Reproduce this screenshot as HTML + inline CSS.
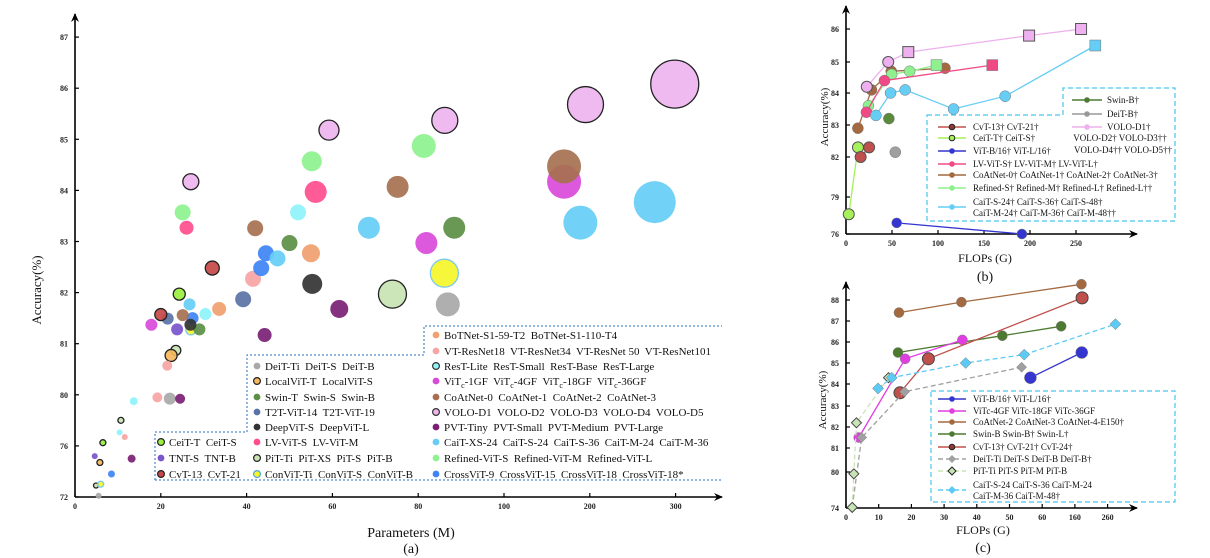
<!DOCTYPE html>
<html><head><meta charset="utf-8">
<style>
html,body{margin:0;padding:0;background:#fff;width:1210px;height:558px;overflow:hidden}
svg{display:block;font-family:"Liberation Serif",serif}
.tk{font-size:8px;font-weight:bold;fill:#222}
.lg{font-size:11px;fill:#111}
.lgs{font-size:9px;fill:#111}
</style></head>
<body>
<svg id="fig" width="1210" height="558" viewBox="0 0 1210 558">
<defs>
<marker id="arr" markerWidth="10" markerHeight="10" refX="8" refY="5" orient="auto" markerUnits="userSpaceOnUse"><path d="M0,1 L9,5 L0,9 L3,5 Z" fill="#000"/></marker>
</defs>
<g id="ga"></g>
<g id="gb"></g>
<g id="gc"></g>
</svg>
<script>
// ---------- chart (a) data ----------
const aXTicks=[0,20,40,60,80,100,200,300];
const aYTicks=[72,76,80,81,82,83,84,85,86,87];
const voloP=[27,59.2,86.2,195,299]; const voloA=[84.17,85.18,85.37,85.68,86.08]; const voloR=[8,10,13,18,24];
const refP=[25.1,55.2,81.3]; const refA=[83.57,84.57,84.87]; const refR=[8,10,12];
const lvP=[26,56.1]; const lvA=[83.27,83.97]; const lvR=[7,11];
const coP=[25.1,42,75.2,170]; const coA=[81.56,83.26,84.07,84.47]; const coR=[6,8,11,17];
const vitcP=[17.8,81.9,170]; const vitcA=[81.37,82.97,84.17]; const vitcR=[6,11,17];
const caitP=[26.7,47.2,68.5,189,275.7]; const caitA=[81.77,82.67,83.27,83.37,83.77]; const caitR=[6,8,11,17,21];
const restP=[10.4,13.7,30.4,52]; const restA=[77.06,79.5,81.58,83.57]; const restR=[3,4,6,8];
const crossP=[8.5,27.4,43.4,44.5]; const crossA=[73.8,81.5,82.48,82.77]; const crossR=[3.5,6,8,8];
const swinP=[29,50,88.4]; const swinA=[81.28,82.97,83.27]; const swinR=[6,8,11];
const t2tP=[21.6,39.2]; const t2tA=[81.49,81.87]; const t2tR=[6,8];
const deepP=[26.9,55.3]; const deepA=[81.37,82.17]; const deepR=[6,10];
const pvtP=[13.2,24.5,44.2,61.6]; const pvtA=[75.0,79.69,81.17,81.68]; const pvtR=[4,5,7,9];
const convP=[6,27,86.1]; const convA=[73,81.27,82.38]; const convR=[3,5,14];
const botP=[33.6,55]; const botA=[81.68,82.77]; const botR=[7,9];
const vtrP=[11.6,19.2,21.5,41.5]; const vtrA=[76.7,79.8,80.57,82.27]; const vtrR=[3,5,5,8];
const deitP=[5.5,22.1,86.9]; const deitA=[72.1,79.7,81.77]; const deitR=[3,6,12];
const localP=[5.8,22.4]; const localA=[74.7,80.77]; const localR=[3,6];
const pitP=[4.9,10.7,23.5,74]; const pitA=[72.9,78.0,80.87,81.97]; const pitR=[2.5,3,5,14];
const ceitP=[6.5,24.3]; const ceitA=[76.25,81.97]; const ceitR=[3,6];
const tntP=[4.6,23.8]; const tntA=[75.2,81.28]; const tntR=[3,6];
const cvtP=[20,32]; const cvtA=[81.57,82.48]; const cvtR=[6,7];

// ---------- chart (b) data ----------
const bXTicks=[0,50,100,150,200,250];
const bYTicks=[76,79,82,83,84,85,86];
const bVoloF=[22.6,45.9,67.7,199,255.5]; const bVoloA=[84.2,85.0,85.3,85.8,86.0];
const bCaitF=[32.5,48.4,64.3,116.9,173,271]; const bCaitA=[83.3,84.0,84.1,83.5,83.9,85.5];
const bRefF=[24.4,49.6,69.2,98.4]; const bRefA=[83.6,84.6,84.7,84.9];
const bLvF=[22.2,41.8,159]; const bLvA=[83.4,84.4,84.9];
const bCoF=[12.9,27.7,49.2,107.6]; const bCoA=[82.9,84.1,84.7,84.8];
const bCeitF=[3,13]; const bCeitA=[77.6,82.3];
const bCvtF=[15.9,25.1]; const bCvtA=[82.0,82.3];
const bSwinF=[46.6]; const bSwinA=[83.2];
const bDeitF=[53.6]; const bDeitA=[82.15];
const bVitF=[55.1,191.2]; const bVitA=[76.9,76.0];

// ---------- chart (c) data ----------
const cXTicks=[0,10,20,30,40,50,60,160,260];
const cYTicks=[74,80,81,82,83,84,85,86,87,88];
const cCoF=[16.2,35.3,180]; const cCoA=[87.4,87.9,88.75];
const cCvtF=[16.5,25.2,182]; const cCvtA=[83.6,85.2,88.1];
const cSwinF=[15.9,47.8,118]; const cSwinA=[85.5,86.3,86.75];
const cVitcF=[3.9,18.1,35.6]; const cVitcA=[81.5,85.2,86.1];
const cVitF=[56.4,181]; const cVitA=[84.3,85.5];
const cDeitF=[1.9,4.8,17.9,53.7]; const cDeitA=[74.1,81.5,83.65,84.8];
const cPitF=[1.9,2.4,3.2,13]; const cPitA=[74.1,79.7,82.2,84.3];
const cCaitF=[9.8,14,36.6,54.5,284]; const cCaitA=[83.8,84.3,85.0,85.4,86.85];

const NS="http://www.w3.org/2000/svg";
function mk(tag,attrs,parent){const e=document.createElementNS(NS,tag);for(const k in attrs)e.setAttribute(k,attrs[k]);parent.appendChild(e);return e;}
function interp(v,vals,pix){if(v<=vals[0]){return pix[0]+(v-vals[0])*(pix[1]-pix[0])/(vals[1]-vals[0]);}
 for(let i=0;i<vals.length-1;i++){if(v<=vals[i+1]){return pix[i]+(v-vals[i])*(pix[i+1]-pix[i])/(vals[i+1]-vals[i]);}}
 const n=vals.length-1;return pix[n]+(v-vals[n])*(pix[n]-pix[n-1])/(vals[n]-vals[n-1]);}

// axis functions
const aXPix=aXTicks.map((_,i)=>75+i*85.8);
const aYPix=aYTicks.map((_,i)=>497-i*51.1);
const xA=v=>interp(v,aXTicks,aXPix), yA=v=>interp(v,aYTicks,aYPix);
const bXPix=bXTicks.map((_,i)=>846+i*46);
const bYPix=[234,197,157,125,93,62,29];
const xB=v=>interp(v,bXTicks,bXPix), yB=v=>interp(v,bYTicks,bYPix);
const cXPix=cXTicks.map((_,i)=>846+i*32.7);
const cYPix=[508,472,448,427,406,384,363,342,321,300];
const xC=v=>interp(v,cXTicks,cXPix), yC=v=>interp(v,cYTicks,cYPix);

function axes(g,x0,y0,xEnd,yTop,xt,xp,yt,yp,pre){
  const ax=mk('line',{x1:x0,y1:y0,x2:xEnd,y2:y0,stroke:'#000','stroke-width':1.6,'marker-end':'url(#arr)'},g);
  
  
  const ay=mk('line',{x1:x0,y1:y0,x2:x0,y2:yTop,stroke:'#000','stroke-width':1.6,'marker-end':'url(#arr)'},g);
  
  
  xt.forEach((v,i)=>{const px=xp(v);
    mk('line',{x1:px,y1:y0,x2:px,y2:y0-4,stroke:'#000','stroke-width':1.2},g);
    const t=mk('text',{x:px,y:y0+12,'text-anchor':'middle',class:'tk'},g);t.textContent=v;
    
    });
  yt.forEach((v,i)=>{const py=yp(v);
    mk('line',{x1:x0,y1:py,x2:x0+4,y2:py,stroke:'#000','stroke-width':1.2},g);
    const t=mk('text',{x:x0-7,y:py+3,'text-anchor':'end',class:'tk'},g);t.textContent=v;
    
    });
}
function label(g,txt,x,y,size,rot,name){const t=mk('text',{x:x,y:y,'text-anchor':'middle','font-size':size,fill:'#111'},g);
  if(rot)t.setAttribute('transform','rotate(-90 '+x+' '+y+')');t.textContent=txt;
  
  return t;}

// ---------------- chart (a) ----------------
const ga=document.getElementById('ga');
axes(ga,75,497,722,14,aXTicks,xA,aYTicks,yA,'a');
label(ga,'Parameters (M)',411,537,14,false,'a-x-axis-title');
label(ga,'(a)',411,553,14,false,'a-caption');
label(ga,'Accuracy(%)',41,290,13,true,'a-y-axis-title');

const aSeries=[
 ['deit',deitP,deitA,deitR,'#a8a8a8','none'],
 ['pit',pitP,pitA,pitR,'#c8e4b4','#222'],
 ['local',localP,localA,localR,'#f5b95c','#222'],
 ['ceit',ceitP,ceitA,ceitR,'#9af040','#222'],
 ['tnt',tntP,tntA,tntR,'#7a56cc','none'],
 ['vtr',vtrP,vtrA,vtrR,'#f7a4a4','none'],
 ['rest',restP,restA,restR,'#8ff3fb','none'],
 ['pvt',pvtP,pvtA,pvtR,'#7a1f74','none'],
 ['cross',crossP,crossA,crossR,'#3d84f5','none'],
 ['conv',convP,convA,convR,'#f5f52a','#7cc8ee'],
 ['t2t',t2tP,t2tA,t2tR,'#5a73a6','none'],
 ['swin',swinP,swinA,swinR,'#5b8f45','none'],
 ['deep',deepP,deepA,deepR,'#333','none'],
 ['bot',botP,botA,botR,'#f0a06e','none'],
 ['cait',caitP,caitA,caitR,'#66cdf5','none'],
 ['vitc',vitcP,vitcA,vitcR,'#d94ad9','none'],
 ['coatnet',coP,coA,coR,'#a6704f','none'],
 ['lvvit',lvP,lvA,lvR,'#ff4d8d','none'],
 ['refined',refP,refA,refR,'#8ef28e','none'],
 ['cvt',cvtP,cvtA,cvtR,'#c74848','#222'],
 ['volo',voloP,voloA,voloR,'#edb4ee','#222']
];
aSeries.forEach(s=>{s[1].forEach((p,i)=>{
  const c=mk('circle',{cx:xA(p),cy:yA(s[2][i]),r:s[3][i],fill:s[4],'fill-opacity':0.92,stroke:s[5],'stroke-width':s[5]=='none'?0:1.3},ga);
  
  
});});

// legend (a)
const lgA=mk('path',{d:'M155,480 L155,432 L247,432 L247,355 L424,355 L424,326 L722,326 M155,480 L722,480',fill:'#fff','fill-opacity':0,stroke:'#2a6fc0','stroke-width':1,'stroke-dasharray':'2,2'},ga);


function lgEntry(g,x,y,col,stroke,txt,name,cls){
  const c=mk('circle',{cx:x-8,cy:y-4,r:3.4,fill:col,stroke:stroke,'stroke-width':stroke=='none'?0:1.2},g);
  
  
  const t=mk('text',{x:x,y:y,class:cls||'lg'},g);t.innerHTML=txt;
  
  
}
const sub='<tspan font-size="8" dy="3">c</tspan><tspan dy="-3">';
const col3=[['#f0a06e','none','BoTNet-S1-59-T2  BoTNet-S1-110-T4'],['#f7a4a4','none','VT-ResNet18  VT-ResNet34  VT-ResNet 50  VT-ResNet101'],
 ['#8ff3fb','#333','ResT-Lite  ResT-Small  ResT-Base  ResT-Large'],['#d94ad9','none','ViT'+sub+'-1GF</tspan>  ViT'+sub+'-4GF</tspan>  ViT'+sub+'-18GF</tspan>  ViT'+sub+'-36GF</tspan>'],
 ['#a6704f','none','CoAtNet-0  CoAtNet-1  CoAtNet-2  CoAtNet-3'],['#edb4ee','#333','VOLO-D1  VOLO-D2  VOLO-D3  VOLO-D4  VOLO-D5'],
 ['#7a1f74','none','PVT-Tiny  PVT-Small  PVT-Medium  PVT-Large'],['#66cdf5','none','CaiT-XS-24  CaiT-S-24  CaiT-S-36  CaiT-M-24  CaiT-M-36'],
 ['#8ef28e','none','Refined-ViT-S  Refined-ViT-M  Refined-ViT-L'],['#3d84f5','none','CrossViT-9  CrossViT-15  CrossViT-18  CrossViT-18*']];
const ys3=[335,351,366,381,397,412,427,442,458,474];
col3.forEach((e,i)=>lgEntry(ga,444,ys3[i]+4,e[0],e[1],e[2].replace(/  /g,'&#160; '),'a-legend-entry'));
const col2=[['#a8a8a8','none','DeiT-Ti  DeiT-S  DeiT-B'],['#f5b95c','#222','LocalViT-T  LocalViT-S'],['#5b8f45','none','Swin-T  Swin-S  Swin-B'],
 ['#5a73a6','none','T2T-ViT-14  T2T-ViT-19'],['#333','none','DeepViT-S  DeepViT-L'],['#ff4d8d','none','LV-ViT-S  LV-ViT-M'],
 ['#c8e4b4','#222','PiT-Ti  PiT-XS  PiT-S  PiT-B'],['#f5f52a','#4aa8e0','ConViT-Ti  ConViT-S  ConViT-B']];
col2.forEach((e,i)=>lgEntry(ga,265,ys3[i+2]+4,e[0],e[1],e[2].replace(/  /g,'&#160; '),'a-legend-entry'));
const col1=[['#9af040','#222','CeiT-T  CeiT-S'],['#7a56cc','none','TNT-S  TNT-B'],['#c74848','#222','CvT-13  CvT-21']];
col1.forEach((e,i)=>lgEntry(ga,169,ys3[i+7]+4,e[0],e[1],e[2].replace(/  /g,'&#160; '),'a-legend-entry'));

// ---------------- chart (b) ----------------
const gb=document.getElementById('gb');
axes(gb,846,234,1137,6,bXTicks,xB,bYTicks,yB,'b');
label(gb,'FLOPs (G)',985,262,12,false,'b-x-axis-title');
label(gb,'(b)',985,281,14,false,'b-caption');
label(gb,'Accuracy(%)',828,117,11,true,'b-y-axis-title');
function series(g,xf,yf,xs,ys,col,opts,name){
  if(xs.length>1){const d=xs.map((v,i)=>(i?'L':'M')+xf(v).toFixed(1)+','+yf(ys[i]).toFixed(1)).join(' ');
    const p=mk('path',{d:d,fill:'none',stroke:col,'stroke-width':1.3,'stroke-dasharray':opts.dash||'none'},g);
    
    }
  xs.forEach((v,i)=>{const x=xf(v),y=yf(ys[i]);const sh=(opts.shapes&&opts.shapes[i])||opts.shape||'c';const r=opts.r||5.5;let m;
    if(sh=='s')m=mk('rect',{x:x-r,y:y-r,width:2*r,height:2*r,fill:col},g);
    else if(sh=='d')m=mk('path',{d:`M${x},${y-r} L${x+r},${y} L${x},${y+r} L${x-r},${y} Z`,fill:opts.fill||col},g);
    else m=mk('circle',{cx:x,cy:y,r:r,fill:opts.fill||col},g);
    m.setAttribute('stroke',opts.stroke||'#777');m.setAttribute('stroke-width',opts.stroke?1:0.5);
    
    });
}
series(gb,xB,yB,bCeitF,bCeitA,'#a6f05a',{stroke:'#555'},'b-ceit');
series(gb,xB,yB,bCoF,bCoA,'#a4693f',{},'b-coatnet');
series(gb,xB,yB,bRefF,bRefA,'#8ef08e',{shapes:['c','c','c','s']},'b-refined');
series(gb,xB,yB,bLvF,bLvA,'#f04a86',{shapes:['c','c','s']},'b-lvvit');
series(gb,xB,yB,bCaitF,bCaitA,'#66cdf5',{shapes:['c','c','c','c','c','s']},'b-cait');
series(gb,xB,yB,bVoloF,bVoloA,'#eeb0ee',{shapes:['c','c','s','s','s'],stroke:'#555'},'b-volo');
series(gb,xB,yB,bCvtF,bCvtA,'#c0504c',{stroke:'#555'},'b-cvt');
series(gb,xB,yB,bSwinF,bSwinA,'#5b8a3c',{},'b-swin');
series(gb,xB,yB,bDeitF,bDeitA,'#a0a0a0',{},'b-deit');
series(gb,xB,yB,bVitF,bVitA,'#3535d0',{r:5},'b-vit');
const lgB=mk('path',{d:'M927,115 L1063,115 L1063,88 L1175,88 L1175,221 L927,221 Z',fill:'#fff','fill-opacity':0.6,stroke:'#4cc4ee','stroke-width':1.2,'stroke-dasharray':'5,3'},gb);


function lineEntry(g,x1,x2,tx,y,col,txt,name,mfill,shape,dash,mstroke){
  const l=mk('line',{x1:x1,y1:y,x2:x2,y2:y,stroke:col,'stroke-width':1.4,'stroke-dasharray':dash||'none'},g);
  
  
  const mx=(x1+x2)/2;let m;
  if(shape=='d')m=mk('path',{d:`M${mx},${y-4} L${mx+4},${y} L${mx},${y+4} L${mx-4},${y} Z`,fill:mfill||col,stroke:mstroke||'none'},g);
  else m=mk('circle',{cx:mx,cy:y,r:2.8,fill:mfill||col,stroke:mstroke||'none'},g);
  
  
  if(txt){const t=mk('text',{x:tx,y:y+3,class:'lgs'},g);t.textContent=txt;
  
  }
}
lineEntry(gb,1072,1102,1107,100,'#4d7a31','Swin-B\u2020','b-legend-swin');
lineEntry(gb,1072,1102,1107,114,'#999','DeiT-B\u2020','b-legend-deit');
lineEntry(gb,1072,1102,1107,127,'#eeb0ee','VOLO-D1\u2020','b-legend-volo');
label(gb,'VOLO-D2\u2020 VOLO-D3\u2020\u2020',1120,141,9,false,'b-legend-volo2');
label(gb,'VOLO-D4\u2020\u2020  VOLO-D5\u2020\u2020',1123,153,9,false,'b-legend-volo4');
const bL=[[127,'#c0504c','CvT-13\u2020  CvT-21\u2020','#8b3a36','#222'],[138,'#a6f05a','CeiT-T\u2020  CeiT-S\u2020','#a6f05a','#222'],
 [151,'#3535d0','ViT-B/16\u2020  ViT-L/16\u2020'],[164,'#f04a86','LV-ViT-S\u2020  LV-ViT-M\u2020  LV-ViT-L\u2020'],
 [175,'#a4693f','CoAtNet-0\u2020 CoAtNet-1\u2020 CoAtNet-2\u2020 CoAtNet-3\u2020'],[188,'#8ef08e','Refined-S\u2020 Refined-M\u2020 Refined-L\u2020 Refined-L\u2020\u2020'],
 [207,'#66cdf5','']];
bL.forEach(e=>lineEntry(gb,938,966,973,e[0],e[1],e[2],'b-legend-entry',e[3],'c',null,e[4]));
const tb1=mk('text',{x:973,y:205,class:'lgs'},gb);tb1.textContent='CaiT-S-24\u2020  CaiT-S-36\u2020  CaiT-S-48\u2020';


const tb2=mk('text',{x:973,y:216,class:'lgs'},gb);tb2.textContent='CaiT-M-24\u2020  CaiT-M-36\u2020 CaiT-M-48\u2020\u2020';



// ---------------- chart (c) ----------------
const gc=document.getElementById('gc');
axes(gc,846,508,1137,282,cXTicks,xC,cYTicks,yC,'c');
label(gc,'FLOPs (G)',983,534,12,false,'c-x-axis-title');
label(gc,'(c)',983,552,14,false,'c-caption');
label(gc,'Accuracy(%)',826,400,11,true,'c-y-axis-title');
series(gc,xC,yC,cCoF,cCoA,'#a4693f',{r:5},'c-coatnet');
series(gc,xC,yC,cSwinF,cSwinA,'#4d7a31',{r:5},'c-swin');
series(gc,xC,yC,cVitcF,cVitcA,'#e03ee0',{r:5},'c-vitc');
series(gc,xC,yC,cCvtF,cCvtA,'#c0504c',{r:6,stroke:'#444'},'c-cvt');
series(gc,xC,yC,cVitF,cVitA,'#3535d0',{r:6},'c-vit');
series(gc,xC,yC,cDeitF,cDeitA,'#a0a0a0',{shape:'d',r:5,dash:'5,3'},'c-deit');
series(gc,xC,yC,cPitF,cPitA,'#c8e4b4',{shape:'d',r:5,dash:'5,3',stroke:'#444'},'c-pit');
series(gc,xC,yC,cCaitF,cCaitA,'#5ccaf5',{shape:'d',r:5.5,dash:'5,3'},'c-cait');
const lgC=mk('rect',{x:931,y:391,width:244,height:111,fill:'#fff','fill-opacity':0.6,stroke:'#4cc4ee','stroke-width':1.2,'stroke-dasharray':'5,3'},gc);


const cL=[[399,'#3535d0','ViT-B/16\u2020  ViT-L/16\u2020'],[411,'#e03ee0','ViTc-4GF  ViTc-18GF  ViTc-36GF'],
 [422,'#a4693f','CoAtNet-2  CoAtNet-3  CoAtNet-4-E150\u2020'],[434,'#4d7a31','Swin-B  Swin-B\u2020  Swin-L\u2020'],
 [447,'#c0504c','CvT-13\u2020  CvT-21\u2020  CvT-24\u2020','c','#8b3a36','#222'],[459,'#a0a0a0','DeiT-Ti  DeiT-S  DeiT-B  DeiT-B\u2020','d'],
 [471,'#c8e4b4','PiT-Ti  PiT-S  PiT-M  PiT-B','d','#c8e4b4','#222'],[490,'#5ccaf5','','d']];
cL.forEach(e=>lineEntry(gc,938,966,973,e[0],e[1],e[2],'c-legend-entry',e[4],e[3]||'c',(e[3]=='d')?'5,3':null,e[5]));
const tc1=mk('text',{x:973,y:488,class:'lgs'},gc);tc1.textContent='CaiT-S-24  CaiT-S-36  CaiT-M-24';


const tc2=mk('text',{x:973,y:499,class:'lgs'},gc);tc2.textContent='CaiT-M-36  CaiT-M-48\u2020';


</script>
</body></html>
